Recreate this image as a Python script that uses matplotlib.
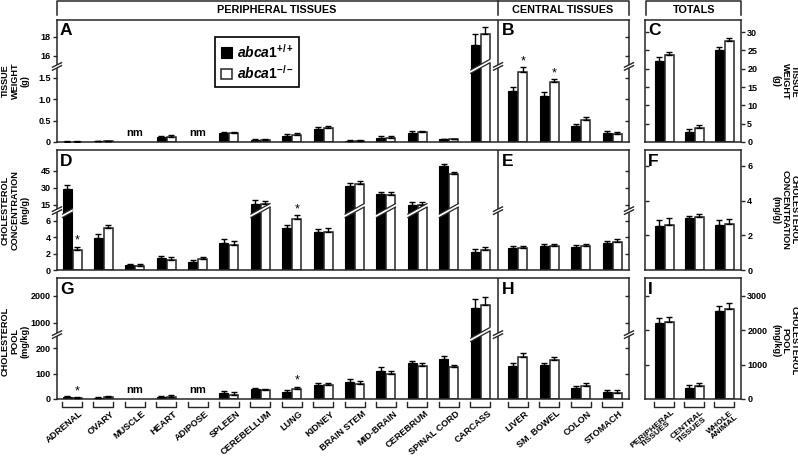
import numpy as np
import matplotlib
matplotlib.use('Agg')
import matplotlib.pyplot as plt
from matplotlib.patches import Polygon
from matplotlib.lines import Line2D
from matplotlib.transforms import IdentityTransform

plt.rcParams['font.family'] = ['Liberation Sans', 'DejaVu Sans']
plt.rcParams['font.weight'] = 'bold'
plt.rcParams['mathtext.fontset'] = 'custom'
plt.rcParams['mathtext.it'] = 'Liberation Sans:italic:bold'
plt.rcParams['mathtext.rm'] = 'Liberation Sans:bold'
plt.rcParams['mathtext.bf'] = 'Liberation Sans:bold'

nan = np.nan

# categories
peripheral = ['ADRENAL', 'OVARY', 'MUSCLE', 'HEART', 'ADIPOSE', 'SPLEEN', 'CEREBELLUM',
              'LUNG', 'KIDNEY', 'BRAIN STEM', 'MID-BRAIN', 'CEREBRUM', 'SPINAL CORD', 'CARCASS']
central = ['LIVER', 'SM. BOWEL', 'COLON', 'STOMACH']
totals = ['PERIPHERAL\nTISSUES', 'CENTRAL\nTISSUES', 'WHOLE\nANIMAL']

# tissue weight (g), peripheral then central; +/+ and -/- with SEM (nan = not measured)
weight_wt = [0.01, 0.015, nan, 0.11, nan, 0.21, 0.05, 0.145, 0.31, 0.035, 0.105, 0.22, 0.06, 17.2,
             1.2, 1.08, 0.37, 0.2]
weight_ko = [0.01, 0.015, nan, 0.125, nan, 0.2, 0.055, 0.175, 0.335, 0.035, 0.1, 0.23, 0.06, 18.3,
             1.63, 1.4, 0.51, 0.19]
weight_wt_sem = [0.005, 0.005, nan, 0.03, nan, 0.03, 0.015, 0.035, 0.035, 0.01, 0.04, 0.03, 0.02, 1.15,
                 0.1, 0.08, 0.06, 0.05]
weight_ko_sem = [0.005, 0.005, nan, 0.035, nan, 0.035, 0.015, 0.04, 0.03, 0.01, 0.045, 0.03, 0.02, 0.7,
                 0.12, 0.07, 0.07, 0.05]
weight_tot_wt = [22.2, 2.7, 25.0]
weight_tot_ko = [23.85, 3.8, 27.7]
weight_tot_wt_sem = [0.9, 0.8, 0.9]
weight_tot_ko_sem = [0.8, 0.8, 0.6]

# cholesterol concentration (mg/g)
conc_wt = [29.4, 3.96, 0.6, 1.43, 0.94, 3.35, 16.2, 5.1, 4.7, 32.0, 24.2, 15.3, 48.7, 2.16,
           2.67, 2.95, 2.8, 3.3]
conc_ko = [2.45, 5.2, 0.53, 1.22, 1.3, 3.06, 15.9, 6.3, 4.7, 33.7, 23.8, 14.8, 42.0, 2.45,
           2.67, 2.9, 2.9, 3.45]
conc_wt_sem = [3.0, 0.4, 0.12, 0.3, 0.3, 0.45, 2.8, 0.4, 0.3, 2.0, 2.4, 2.5, 2.2, 0.45,
               0.3, 0.25, 0.22, 0.3]
conc_ko_sem = [0.4, 0.33, 0.15, 0.4, 0.35, 0.5, 3.0, 0.4, 0.45, 2.0, 2.4, 2.5, 2.2, 0.4,
               0.28, 0.25, 0.25, 0.35]
conc_tot_wt = [2.53, 2.97, 2.59]
conc_tot_ko = [2.59, 3.07, 2.67]
conc_tot_wt_sem = [0.38, 0.17, 0.32]
conc_tot_ko_sem = [0.38, 0.17, 0.29]

# cholesterol pool (mg/kg)
pool_wt = [9, 4, nan, 9, nan, 25, 38, 26, 56, 69, 112, 141, 157, 1550, 130, 133, 42, 29]
pool_ko = [5, 7, nan, 8, nan, 17, 34, 40, 54, 61, 97, 132, 128, 1650, 166, 154, 53, 24]
pool_wt_sem = [4, 3, nan, 4, nan, 8, 7, 8, 6, 9, 16, 10, 12, 315, 13, 10, 9, 6]
pool_ko_sem = [3, 3, nan, 6, nan, 10, 6, 9, 10, 10, 12, 10, 8, 295, 16, 10, 11, 11]
pool_tot_wt = [2210, 333, 2543]
pool_tot_ko = [2230, 371, 2619]
pool_tot_wt_sem = [140, 70, 170]
pool_tot_ko_sem = [150, 100, 160]

stars = [['LIVER', 'SM. BOWEL'], ['ADRENAL', 'LUNG'], ['ADRENAL', 'LUNG']]
not_measured = [['MUSCLE', 'ADIPOSE'], [], ['MUSCLE', 'ADIPOSE']]

rows = [
    (weight_wt, weight_ko, weight_wt_sem, weight_ko_sem,
     weight_tot_wt, weight_tot_ko, weight_tot_wt_sem, weight_tot_ko_sem),
    (conc_wt, conc_ko, conc_wt_sem, conc_ko_sem,
     conc_tot_wt, conc_tot_ko, conc_tot_wt_sem, conc_tot_ko_sem),
    (pool_wt, pool_ko, pool_wt_sem, pool_ko_sem,
     pool_tot_wt, pool_tot_ko, pool_tot_wt_sem, pool_tot_ko_sem),
]

# broken y scales: value breakpoints -> pixel heights above the baseline
row_breaks = [([0, 1.75, 15, 20], [0, 74.7, 76.5, 124.0]),
              ([0, 7, 12, 63], [0, 57.2, 61.6, 119.9]),
              ([0, 250, 600, 2700], [0, 63.3, 65.5, 122.2])]
left_ticks = [[0, 0.5, 1.0, 1.5, 16, 18], [0, 2, 4, 6, 15, 30, 45], [0, 100, 200, 1000, 2000]]
left_labels = [['0', '0.5', '1.0', '1.5', '16', '18'],
               ['0', '2', '4', '6', '15', '30', '45'],
               ['0', '100', '200', '1000', '2000']]
right_ticks = [[0, 5, 10, 15, 20, 25, 30], [0, 2, 4, 6], [0, 1000, 2000, 3000]]
right_top = [33.3, 6.92, 3514]
ylabels = ['TISSUE\nWEIGHT\n(g)', 'CHOLESTEROL\nCONCENTRATION\n(mg/g)', 'CHOLESTEROL\nPOOL\n(mg/kg)']
letters = [('A', 'B', 'C'), ('D', 'E', 'F'), ('G', 'H', 'I')]
row_px = [(20, 142), (150, 270), (278, 399)]
title_y = [81, 210, 341]

W, H = 798, 459
ink = '#262626'
fig = plt.figure(figsize=(W / 100, H / 100), dpi=100)


def rect(x0, x1, y0, y1):
    return [x0 / W, 1 - y1 / H, (x1 - x0) / W, (y1 - y0) / H]


def piecewise(vals, pxs):
    vals = np.asarray(vals, float)
    pxs = np.asarray(pxs, float)

    def mk(a, b):
        def f(x):
            x = np.asarray(x, float)
            y = np.interp(x, a, b)
            y = np.where(x < a[0], b[0] + (x - a[0]) * (b[1] - b[0]) / (a[1] - a[0]), y)
            y = np.where(x > a[-1], b[-1] + (x - a[-1]) * (b[-1] - b[-2]) / (a[-1] - a[-2]), y)
            return y
        return f
    return mk(vals, pxs), mk(pxs, vals)


def style(ax):
    for s in ax.spines.values():
        s.set_color(ink)
        s.set_linewidth(1.1)
    ax.tick_params(axis='x', bottom=False, labelbottom=False)


def pairs(ax, x, wt, ko, wse, kse, dx, w):
    wt, ko = np.asarray(wt, float), np.asarray(ko, float)
    wse, kse = np.asarray(wse, float), np.asarray(kse, float)
    ok = ~np.isnan(wt)
    h1 = ax.bar(x[ok] - dx, wt[ok], w, color='black', edgecolor='black', lw=0.8, zorder=2)
    h2 = ax.bar(x[ok] + dx, ko[ok], w, color='white', edgecolor=ink, lw=1.1, zorder=2)
    z = np.zeros(ok.sum())
    ax.errorbar(x[ok] - dx, wt[ok], yerr=[z, wse[ok]], fmt='none', ecolor='black',
                elinewidth=1, capsize=2.4, capthick=1, zorder=3)
    ax.errorbar(x[ok] + dx, ko[ok], yerr=[z, kse[ok]], fmt='none', ecolor='black',
                elinewidth=1, capsize=2.4, capthick=1, zorder=3)
    return h1, h2


def mirror(ax, funcs, lim, ticks, side):
    tw = ax.twinx()
    if funcs is not None:
        tw.set_yscale('function', functions=funcs)
    tw.set_ylim(*lim)
    tw.set_yticks(ticks)
    tw.yaxis.set_ticks_position(side)
    tw.tick_params(axis='y', direction='in', length=3, width=1, color=ink,
                   labelleft=False, labelright=False)
    for s in tw.spines.values():
        s.set_visible(False)
    return tw


def add_disp(artist):
    artist.set_transform(IdentityTransform())
    fig.add_artist(artist)


def spine_cut(ax, xdata, bval):
    X, Y = ax.transData.transform((xdata, bval))
    s, g = 0.5, 3.0
    add_disp(Polygon([[X - 2.5, Y - 1.25 - g / 2], [X + 2.5, Y + 1.25 - g / 2],
                      [X + 2.5, Y + 1.25 + g / 2], [X - 2.5, Y - 1.25 + g / 2]],
                     closed=True, facecolor='white', edgecolor='none', zorder=6))
    for sg in (-1, 1):
        add_disp(Line2D([X - 4.5, X + 4.5], [Y - 4.5 * s + sg * g / 2, Y + 4.5 * s + sg * g / 2],
                        color=ink, lw=1.0, zorder=7))


def bar_cut(ax, xc, xb, w, bval, slope=0.55, t=3.4):
    Xc, Yb = ax.transData.transform((xc, bval))
    Xl = ax.transData.transform((xb - w / 2, bval))[0] - 1.2
    Xr = ax.transData.transform((xb + w / 2, bval))[0] + 1.2
    yl = Yb + slope * (Xl - Xc)
    yr = Yb + slope * (Xr - Xc)
    add_disp(Polygon([[Xl, yl - t / 2], [Xr, yr - t / 2], [Xr, yr + t / 2], [Xl, yl + t / 2]],
                     closed=True, facecolor='white', edgecolor='none', zorder=6))
    for sg in (-1, 1):
        add_disp(Line2D([Xl + 1.2, Xr - 1.2],
                        [yl + 1.2 * slope + sg * t / 2, yr - 1.2 * slope + sg * t / 2],
                        color=ink, lw=0.9, zorder=7))


unit = 31.4
xm = np.r_[np.arange(14), 14.2 + np.arange(4)]
divider = (498 - 72) / unit
xt = np.arange(3)
names = peripheral + central
dxm, wm = 5 / unit, 9 / unit
dxt, wt_ = 5 / 30, 9 / 30

cuts = []
for r in range(3):
    wt, ko, wse, kse, twt, tko, twse, tkse = rows[r]
    y0, y1 = row_px[r]
    hpx = y1 - y0
    fwd, inv = piecewise(*row_breaks[r])
    vals = row_breaks[r][0]
    bval = (vals[1] + vals[2]) / 2

    # left + central panel, shared broken scale
    ax = fig.add_axes(rect(57, 629, y0, y1))
    style(ax)
    ax.set_yscale('function', functions=(fwd, inv))
    ax.set_xlim((57 - 72) / unit, (629 - 72) / unit)
    ylim = (0, float(inv(hpx)))
    ax.set_ylim(*ylim)
    ax.set_yticks(left_ticks[r])
    ax.set_yticklabels(left_labels[r])
    ax.tick_params(axis='y', direction='out', length=3, width=1, color=ink, pad=1.5, labelsize=6.5)
    ax.minorticks_off()
    mirror(ax, (fwd, inv), ylim, left_ticks[r][1:], 'right')
    ax.axvline(divider, color=ink, lw=1.1, zorder=4)
    h1, h2 = pairs(ax, xm, wt, ko, wse, kse, dxm, wm)

    for nm in not_measured[r]:
        ax.text(xm[names.index(nm)], 4 / hpx, 'nm', transform=ax.get_xaxis_transform(),
                ha='center', va='bottom', fontsize=8)
    for st in stars[r]:
        i = names.index(st)
        ax.annotate('*', (xm[i] + dxm, ko[i] + kse[i]), xytext=(0, 0), textcoords='offset points',
                    ha='center', va='bottom', fontsize=9, fontweight='normal')

    a, b, c = letters[r]
    ax.text(3 / 572, 1 - 3.5 / hpx, a, transform=ax.transAxes, ha='left', va='top', fontsize=12.5)
    ax.text(divider + 4 / unit, 1 - 3.5 / hpx, b, transform=ax.get_xaxis_transform(),
            ha='left', va='top', fontsize=12.5)

    if r == 0:
        leg = ax.legend([h1, h2], [r'$\mathit{abca1}^{+/+}$', r'$\mathit{abca1}^{-/-}$'],
                        loc='upper left', bbox_to_anchor=(215 / W, 1 - 37 / H),
                        bbox_transform=fig.transFigure, fontsize=10, frameon=True,
                        fancybox=False, edgecolor='black', framealpha=1, borderpad=0.4,
                        handlelength=0.8, handleheight=0.8, handletextpad=0.35,
                        labelspacing=0.25, borderaxespad=0)
        leg.get_frame().set_linewidth(1.2)

    # totals panel
    axt = fig.add_axes(rect(645, 741, y0, y1))
    style(axt)
    axt.set_xlim((645 - 664) / 30, (741 - 664) / 30)
    axt.set_ylim(0, right_top[r])
    mirror(axt, None, (0, right_top[r]), right_ticks[r][1:], 'left')
    axt.yaxis.tick_right()
    axt.set_yticks(right_ticks[r])
    axt.tick_params(axis='y', direction='out', length=3, width=1, color=ink, pad=1.5,
                    labelsize=6.5, left=False, labelleft=False)
    pairs(axt, xt, twt, tko, twse, tkse, dxt, wt_)
    axt.text(3 / 96, 1 - 3.5 / hpx, c, transform=axt.transAxes, ha='left', va='top', fontsize=12.5)

    # axis titles
    fig.text(15 / W, 1 - title_y[r] / H, ylabels[r], rotation=90, ha='center', va='center',
             multialignment='center', fontsize=6.6, linespacing=1.15)
    fig.text(785 / W, 1 - title_y[r] / H, ylabels[r], rotation=270, ha='center', va='center',
             multialignment='center', fontsize=6.6, linespacing=1.0)

    # x labels with brackets under the last row
    if r == 2:
        for i, nm in enumerate(names):
            x = xm[i]
            ax.plot([x - 10 / unit, x - 10 / unit, x + 10 / unit, x + 10 / unit],
                    [-2.7 / hpx, -7.7 / hpx, -7.7 / hpx, -2.7 / hpx], color=ink, lw=1.0,
                    transform=ax.get_xaxis_transform(), clip_on=False)
            ax.text(x + 7 / unit, -10 / hpx, nm, transform=ax.get_xaxis_transform(), rotation=40,
                    rotation_mode='anchor', ha='right', va='top', fontsize=6.6)
        for i, nm in enumerate(totals):
            x = xt[i]
            axt.plot([x - 10 / 30, x - 10 / 30, x + 10 / 30, x + 10 / 30],
                     [-2.7 / hpx, -7.7 / hpx, -7.7 / hpx, -2.7 / hpx], color=ink, lw=1.0,
                     transform=axt.get_xaxis_transform(), clip_on=False)
            axt.text(x + 7 / 30, -10 / hpx, nm, transform=axt.get_xaxis_transform(), rotation=40,
                     rotation_mode='anchor', ha='right', va='top', fontsize=6.1,
                     multialignment='center', linespacing=0.9)

    cuts.append((ax, bval, np.asarray(wt, float), np.asarray(ko, float), vals[2]))

# breaks on the spines and through the tall bars
for ax, bval, wt, ko, upper in cuts:
    x0, x1 = ax.get_xlim()
    for xd in (x0, divider, x1):
        spine_cut(ax, xd, bval)
    for i in range(len(xm)):
        if wt[i] > upper:
            bar_cut(ax, xm[i], xm[i] - dxm, wm, bval)
        if ko[i] > upper:
            bar_cut(ax, xm[i], xm[i] + dxm, wm, bval)


# group headers
def fig_line(xs, ys):
    fig.add_artist(Line2D(np.array(xs) / W, 1 - np.array(ys) / H, transform=fig.transFigure,
                          color=ink, lw=1.1))


fig_line([57, 57, 629, 629], [15, 1.2, 1.2, 15])
fig_line([498, 498], [1.2, 15])
fig_line([646, 646, 741, 741], [15, 1.2, 1.2, 15])
fig.text(277 / W, 1 - 10 / H, 'PERIPHERAL TISSUES', ha='center', va='center', fontsize=7.8)
fig.text(563 / W, 1 - 10 / H, 'CENTRAL TISSUES', ha='center', va='center', fontsize=7.8)
fig.text(694 / W, 1 - 10 / H, 'TOTALS', ha='center', va='center', fontsize=7.8)

fig.savefig('out.png', dpi=100)
